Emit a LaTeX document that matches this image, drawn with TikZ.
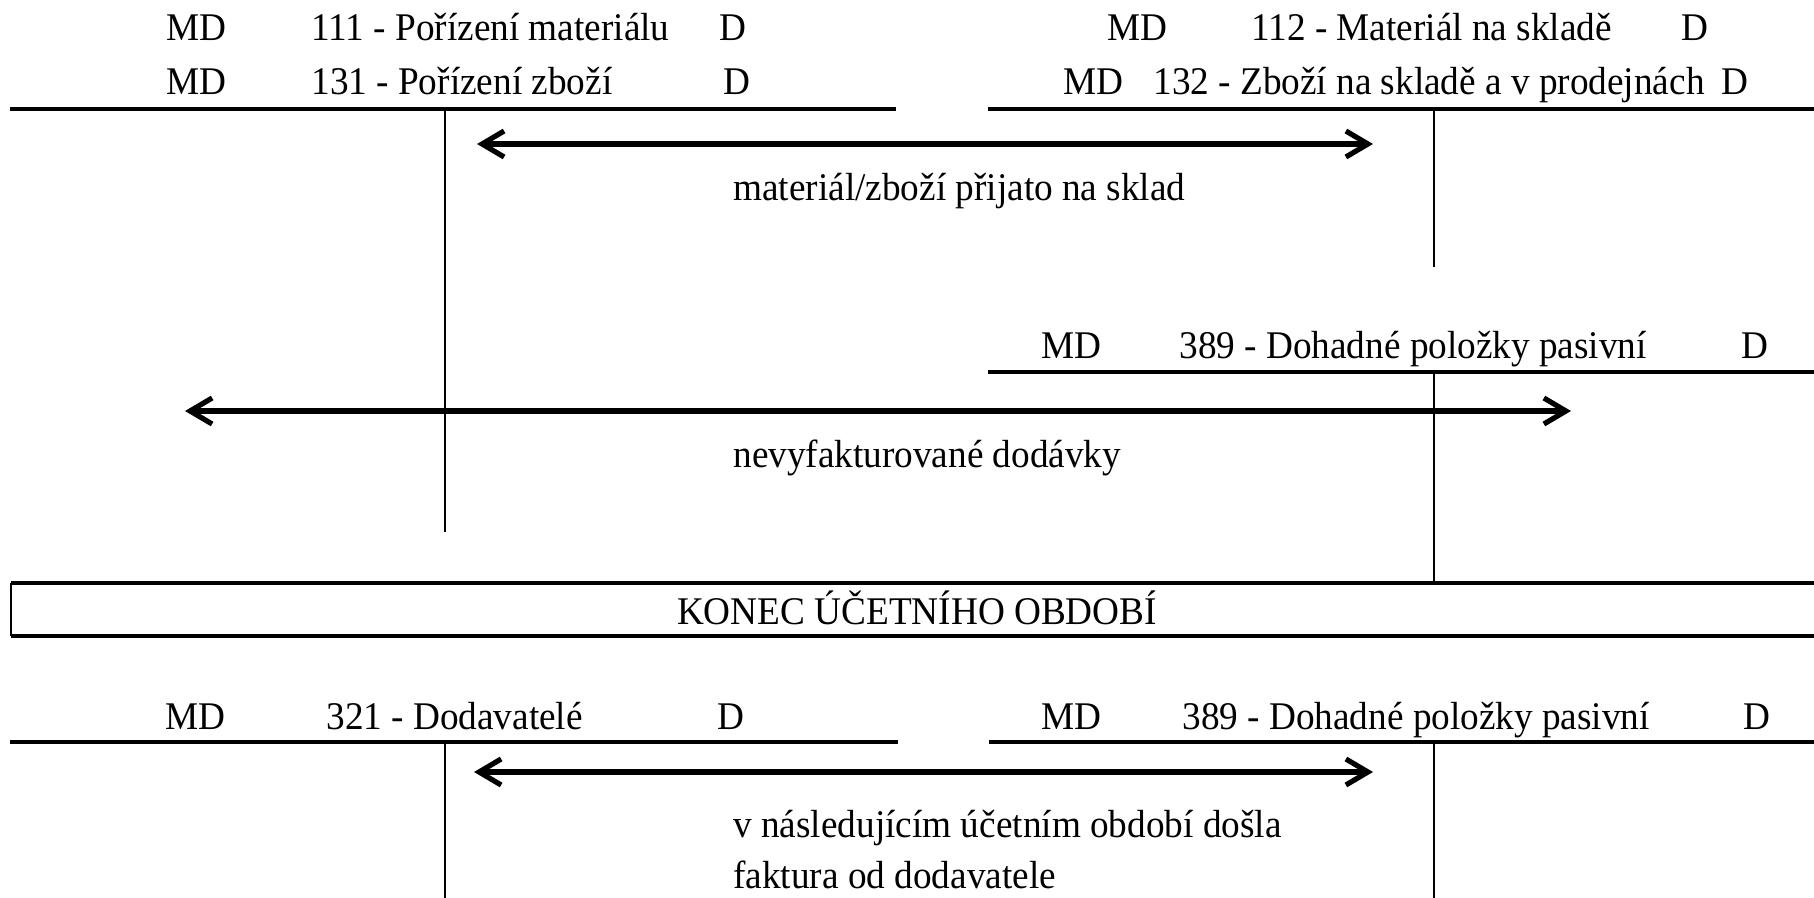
\documentclass[tikz,border=0pt]{standalone}
\usepackage{fontspec}
\setmainfont{Liberation Serif}[FakeStretch=0.95]
\usetikzlibrary{arrows.meta}
\begin{document}
\begin{tikzpicture}[x=0.5pt,y=-0.5pt,
  txt/.style={anchor=base west,inner sep=0pt,font=\fontsize{19.6pt}{23pt}\selectfont},
  ctxt/.style={txt,anchor=base},
  tline/.style={line width=2.3pt},
  vline/.style={line width=1.3pt},
  boxline/.style={line width=1.6pt},
  thinline/.style={line width=0.7pt},
  flow/.style={line width=2.6pt,
    {Straight Barb[length=11pt,width=13pt]}-{Straight Barb[length=11pt,width=13pt]}}]
\useasboundingbox (0,0) rectangle (1814,898);

% ---- top-left account
\node[txt] (tlmd1) at (166,41) {MD};
\node[txt] (tlt1) at (311,41) {111 - Pořízení materiálu};
\node[txt] (tld1) at (719,41) {D};
\node[txt] (tlmd2) at (166,95) {MD};
\node[txt] (tlt2) at (311,95) {131 - Pořízení zboží};
\node[txt] (tld2) at (723,95) {D};
\draw[tline] (10,109) -- (896,109);
\draw[vline] (445,109) -- (445,532);

% ---- top-right account
\node[txt] (trmd1) at (1107,41) {MD};
\node[txt] (trt1) at (1251,41) {112 - Materiál na skladě};
\node[txt] (trd1) at (1681,41) {D};
\node[txt] (trmd2) at (1063,95) {MD};
\node[txt] (trt2) at (1153,95) {132 - Zboží na skladě a v prodejnách};
\node[txt] (trd2) at (1721,95) {D};
\draw[tline] (988,109) -- (1814,109);
\draw[vline] (1434,109) -- (1434,267);

% ---- arrow 1
\coordinate (a1l) at (477,144);
\coordinate (a1r) at (1373,144);
\draw[flow] (a1l) -- (a1r);
\node[txt] (lab1) at (733,201) {materiál/zboží přijato na sklad};

% ---- middle account 389
\node[txt] (mmd) at (1041,359) {MD};
\node[txt] (mt) at (1179,359) {389 - Dohadné položky pasivní};
\node[txt] (md) at (1741,359) {D};
\draw[tline] (988,372) -- (1814,372);
\draw[vline] (1434,372) -- (1434,583);

% ---- arrow 2
\coordinate (a2l) at (185,411);
\coordinate (a2r) at (1571,411);
\draw[flow] (a2l) -- (a2r);
\node[txt] (lab2) at (733,467) {nevyfakturované dodávky};

% ---- period end box
\draw[boxline] (1814,583) -- (11,583);
\draw[boxline] (11,636) -- (1814,636);
\draw[thinline] (11,583) -- (11,636);
\node[ctxt] (konec) at (917,624) {KONEC ÚČETNÍHO OBDOBÍ};

% ---- bottom accounts
\node[txt] (blmd) at (165,729) {MD};
\node[txt] (blt) at (326,729) {321 - Dodavatelé};
\node[txt] (bld) at (717,729) {D};
\draw[tline] (10,742) -- (898,742);
\draw[vline] (445,742) -- (445,898);

\node[txt] (brmd) at (1041,729) {MD};
\node[txt] (brt) at (1182,729) {389 - Dohadné položky pasivní};
\node[txt] (brd) at (1743,729) {D};
\draw[tline] (989,742) -- (1814,742);
\draw[vline] (1434,742) -- (1434,898);

% ---- arrow 3
\coordinate (a3l) at (474,772);
\coordinate (a3r) at (1373,772);
\draw[flow] (a3l) -- (a3r);
\node[txt] (lab3a) at (733,837) {v následujícím účetním období došla};
\node[txt] (lab3b) at (733,888) {faktura od dodavatele};
\end{tikzpicture}
\end{document}
